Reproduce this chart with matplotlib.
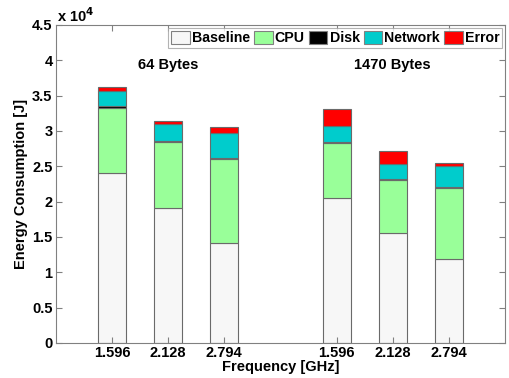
import numpy as np
import matplotlib
matplotlib.use("Agg")
import matplotlib.pyplot as plt

# Stacked energy components per run (J)
freq_labels = ['1.596', '2.128', '2.794', '1.596', '2.128', '2.794']
positions = [1, 2, 3, 5, 6, 7]
baseline = [24000, 19050, 14100, 20500, 15500, 11950]
cpu = [9300, 9350, 11900, 7800, 7500, 9950]
disk = [250, 200, 200, 200, 170, 170]
network = [2150, 2350, 3450, 2250, 2230, 2930]
error = [500, 500, 850, 2350, 1700, 450]

series = [('Baseline', baseline, '#f7f7f7'),
          ('CPU', cpu, '#99ff99'),
          ('Disk', disk, '#000000'),
          ('Network', network, '#00cccc'),
          ('Error', error, '#ff0000')]

plt.rcParams['font.family'] = 'Liberation Sans'
plt.rcParams['font.weight'] = 'bold'

fig = plt.figure(figsize=(5.1, 3.78), dpi=100)
ax = fig.add_axes([56 / 510, 35 / 378, 449 / 510, 318 / 378])

bottom = np.zeros(len(positions))
handles = []
for name, vals, color in series:
    h = ax.bar(positions, vals, width=0.5, bottom=bottom, color=color,
               edgecolor='#6a6a6a', linewidth=0.8, label=name)
    handles.append(h)
    bottom += np.array(vals)

ax.set_xlim(0, 8)
ax.set_ylim(0, 45000)
ax.set_yticks(np.arange(0, 45001, 5000))
ax.set_yticklabels(['0', '0.5', '1', '1.5', '2', '2.5', '3', '3.5', '4', '4.5'])
ax.set_xticks(positions)
ax.set_xticklabels(freq_labels)
ax.tick_params(direction='in', top=True, right=True, labelsize=10.5,
               color='#808080', length=4, pad=2.5)
for s in ax.spines.values():
    s.set_color('#808080')
ax.text(0.002, 1.0, r'x 10$^{\mathbf{4}}$', transform=ax.transAxes, fontsize=10.5,
        fontweight='bold', ha='left', va='bottom')

ax.set_xlabel('Frequency [GHz]', fontsize=10.5, fontweight='bold', labelpad=0)
ax.set_ylabel('Energy Consumption [J]', fontsize=10.5, fontweight='bold', labelpad=3)

ax.text(2, 39300, '64 Bytes', ha='center', va='center', fontsize=10.5, fontweight='bold')
ax.text(6, 39300, '1470 Bytes', ha='center', va='center', fontsize=10.5, fontweight='bold')

leg = ax.legend(handles=handles, loc='upper right', ncol=5, fontsize=10.2,
                frameon=True, fancybox=False, borderaxespad=0.2,
                handlelength=1.3, handleheight=1.1, handletextpad=0.15,
                columnspacing=0.3, borderpad=0.2)
leg.get_frame().set_edgecolor('#a0a0a0')
leg.get_frame().set_linewidth(0.8)
for p in leg.get_patches():
    p.set_edgecolor('#808080')

fig.savefig('out.png', dpi=100)
